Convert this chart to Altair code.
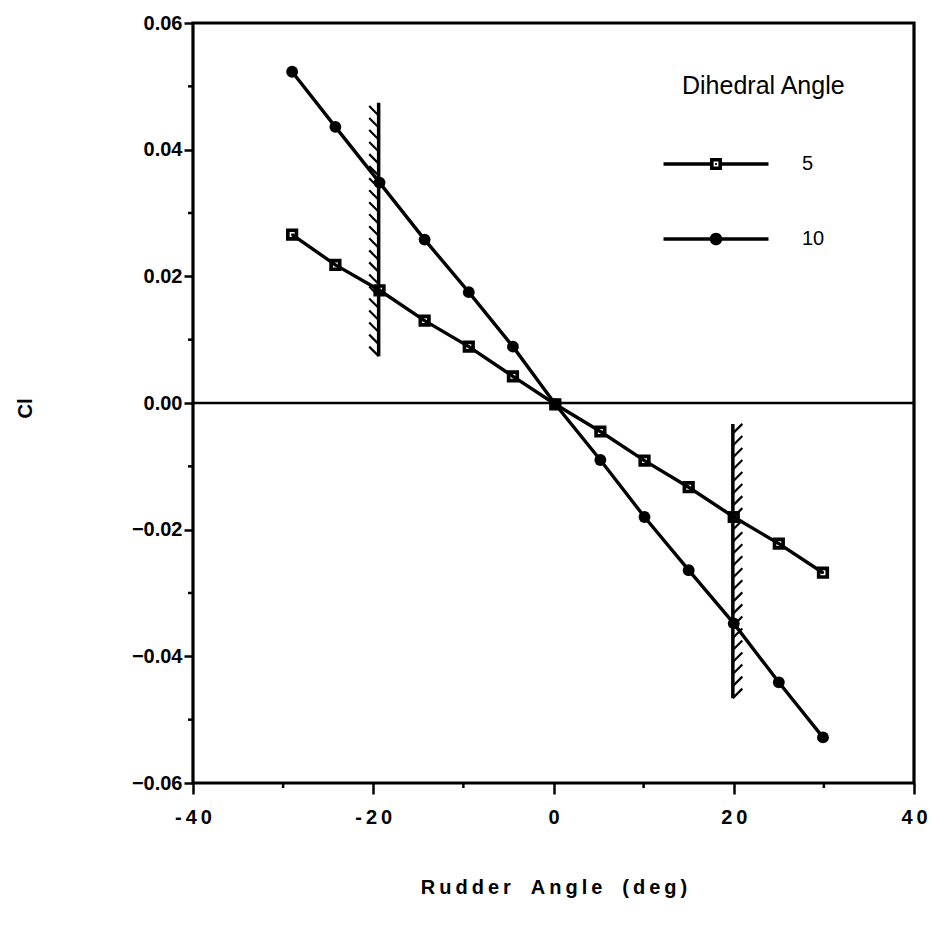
import altair as alt
import numpy as np
import pandas as pd

# ---- data -------------------------------------------------------------
rudder_angle = [-29.0, -24.2, -19.3, -14.3, -9.4, -4.5, 0.2, 5.2, 10.1, 15.0, 20.0, 25.0, 29.9]
cl_dihedral_5 = [0.0266, 0.0218, 0.0178, 0.0130, 0.0089, 0.0042, -0.0002,
                 -0.0045, -0.0091, -0.0133, -0.0180, -0.0222, -0.0268]
cl_dihedral_10 = [0.0523, 0.0436, 0.0348, 0.0258, 0.0175, 0.0089, -0.0002,
                  -0.0090, -0.0180, -0.0264, -0.0348, -0.0441, -0.0528]
series_names = ["5", "10"]

# rudder stop lines (hatched)
limit_angle = [-19.4, 19.9]
limit_cl_top = [0.0474, -0.0033]
limit_cl_bottom = [0.0074, -0.0466]
hatch_side = [-1, 1]

x_ticks = [-40, -20, 0, 20, 40]
x_tick_text = ["-40", "-20", "0", "20", "40"]
x_minor = [-30, -10, 10, 30]
y_ticks = [-0.06, -0.04, -0.02, 0.0, 0.02, 0.04, 0.06]
y_minor = [-0.05, -0.03, -0.01, 0.01, 0.03, 0.05]

x_title = "Rudder Angle (deg)"
y_title = "Cl"
legend_title = "Dihedral Angle"

# ---- layout -----------------------------------------------------------
PLOT_W, PLOT_H = 721, 760
PAD_L, PAD_T = 193, 23
FONT = "Liberation Sans"

HATCH_DX = 1.05
HATCH_DY = 0.0015
HATCH_STEP = 0.0019

# ---- frames -----------------------------------------------------------
df = pd.DataFrame({
    "angle": rudder_angle * 2,
    "cl": cl_dihedral_5 + cl_dihedral_10,
    "series": [series_names[0]] * len(rudder_angle) + [series_names[1]] * len(rudder_angle),
})

limits = pd.DataFrame({"x": limit_angle, "top": limit_cl_top, "bottom": limit_cl_bottom})

hatch_rows = []
for ang, top, bot, side in zip(limit_angle, limit_cl_top, limit_cl_bottom, hatch_side):
    for y0 in np.arange(bot, top - HATCH_DY, HATCH_STEP):
        hatch_rows.append({"x": ang, "x2": ang + side * HATCH_DX, "y": y0, "y2": y0 + HATCH_DY})
hatches = pd.DataFrame(hatch_rows)

# ---- scales / axes ----------------------------------------------------
xscale = alt.Scale(domain=[-40, 40], nice=False, zero=False)
yscale = alt.Scale(domain=[-0.06, 0.06], nice=False, zero=False)


def spaced(s, gap="\u2009"):
    return gap.join(s)


label_expr = " : ".join(
    f"datum.value == {v} ? '{spaced(t)}'" for v, t in zip(x_ticks, x_tick_text)
) + " : ''"

title_x_text = "\u2003".join(spaced(w) for w in x_title.split(" "))

xaxis = alt.Axis(values=x_ticks, labelExpr=label_expr, title=title_x_text,
                 domain=False, grid=False, tickSize=11, tickWidth=2.5, tickColor="black",
                 labelFlush=False, labelOverlap=False,
                 labelFont=FONT, labelFontSize=20, labelFontWeight="bold", labelColor="black",
                 labelPadding=13, titleFont=FONT, titleFontSize=20, titleFontWeight="bold",
                 titleColor="black", titlePadding=50)
yaxis = alt.Axis(values=y_ticks, format=".2f", title=y_title,
                 domain=False, grid=False, tickSize=9, tickWidth=2.5, tickColor="black",
                 labelFlush=False, labelOverlap=False,
                 labelFont=FONT, labelFontSize=20, labelFontWeight="bold", labelColor="black",
                 labelPadding=2, titleFont=FONT, titleFontSize=20, titleFontWeight="bold",
                 titleColor="black", titleX=-158, titleY=385)


def X(field):
    return alt.X(field, scale=xscale, axis=xaxis)


def Y(field):
    return alt.Y(field, scale=yscale, axis=yaxis)


# ---- marker shapes ----------------------------------------------------
SQUARE_PATH = ("M-1,-1H1V1H-1Z M-0.4,-0.4V0.4H0.4V-0.4Z "
               "M-0.15,-0.15H0.15V0.15H-0.15Z")
LEGEND_5 = ("M-1.75,-0.055H-0.19V0.055H-1.75Z M0.19,-0.055H1.75V0.055H0.19Z "
            "M-0.2,-0.2H0.2V0.2H-0.2Z M-0.08,-0.08V0.08H0.08V-0.08Z "
            "M-0.03,-0.03H0.03V0.03H-0.03Z")
LEGEND_10 = ("M-1.75,-0.055H1.75V0.055H-1.75Z "
             "M-0.21,0A0.21,0.21,0,1,1,0.21,0A0.21,0.21,0,1,1,-0.21,0Z")

# ---- layers -----------------------------------------------------------
zero_line = alt.Chart(pd.DataFrame({"cl": [0.0]})).mark_rule(
    color="black", strokeWidth=2.6
).encode(y=Y("cl:Q"))

limit_lines = alt.Chart(limits).mark_rule(color="black", strokeWidth=3.5).encode(
    x=X("x:Q"), y=Y("bottom:Q"), y2="top:Q",
)

hatch_marks = alt.Chart(hatches).mark_rule(color="black", strokeWidth=2.2).encode(
    x=X("x:Q"), x2="x2:Q", y=Y("y:Q"), y2="y2:Q",
)

lines = alt.Chart(df).mark_line(color="black", strokeWidth=3.4).encode(
    x=X("angle:Q"), y=Y("cl:Q"), detail="series:N",
)

squares = alt.Chart(df).transform_filter(
    alt.datum.series == series_names[0]
).mark_point(shape=SQUARE_PATH, filled=True, color="black", size=150, opacity=1,
             strokeWidth=0).encode(x=X("angle:Q"), y=Y("cl:Q"))

circles = alt.Chart(df).transform_filter(
    alt.datum.series == series_names[1]
).mark_circle(color="black", size=140, opacity=1).encode(x=X("angle:Q"), y=Y("cl:Q"))

x_minor_ticks = alt.Chart(pd.DataFrame({"v": x_minor})).mark_rule(
    color="black", strokeWidth=2.5, y2Offset=5
).encode(
    x=X("v:Q"),
    y=alt.YDatum(-0.06, scale=yscale, axis=yaxis),
    y2=alt.Y2Datum(-0.06),
)

y_minor_ticks = alt.Chart(pd.DataFrame({"v": y_minor})).mark_rule(
    color="black", strokeWidth=2.5, x2Offset=-5
).encode(
    y=Y("v:Q"),
    x=alt.XDatum(-40, scale=xscale, axis=xaxis),
    x2=alt.X2Datum(-40),
)

legend_layer = alt.Chart(pd.DataFrame({"series": pd.Series([], dtype="object")})).mark_point(
    filled=True, color="black", opacity=1
).encode(
    shape=alt.Shape(
        "series:N",
        scale=alt.Scale(domain=series_names, range=[LEGEND_5, LEGEND_10]),
        legend=alt.Legend(
            title=legend_title, orient="none", legendX=489, legendY=51,
            padding=0, symbolSize=3600, symbolOffset=4, symbolFillColor="black",
            symbolStrokeWidth=0, symbolOpacity=1, rowPadding=35,
            labelFont=FONT, labelFontSize=20, labelColor="black", labelOffset=56,
            titleFont=FONT, titleFontSize=25, titleFontWeight="normal",
            titleColor="black", titlePadding=35,
        ),
    )
)

chart = alt.layer(
    zero_line, limit_lines, hatch_marks, lines, squares, circles,
    x_minor_ticks, y_minor_ticks, legend_layer,
).properties(
    width=PLOT_W,
    height=PLOT_H,
    autosize=alt.AutoSizeParams(type="none"),
    padding={"left": PAD_L, "top": PAD_T, "right": 931 - PAD_L - PLOT_W, "bottom": 935 - PAD_T - PLOT_H},
    background="white",
).configure_view(stroke="black", strokeWidth=3.2)

chart.save("out.html", embed_options={"renderer": "svg", "actions": False})
